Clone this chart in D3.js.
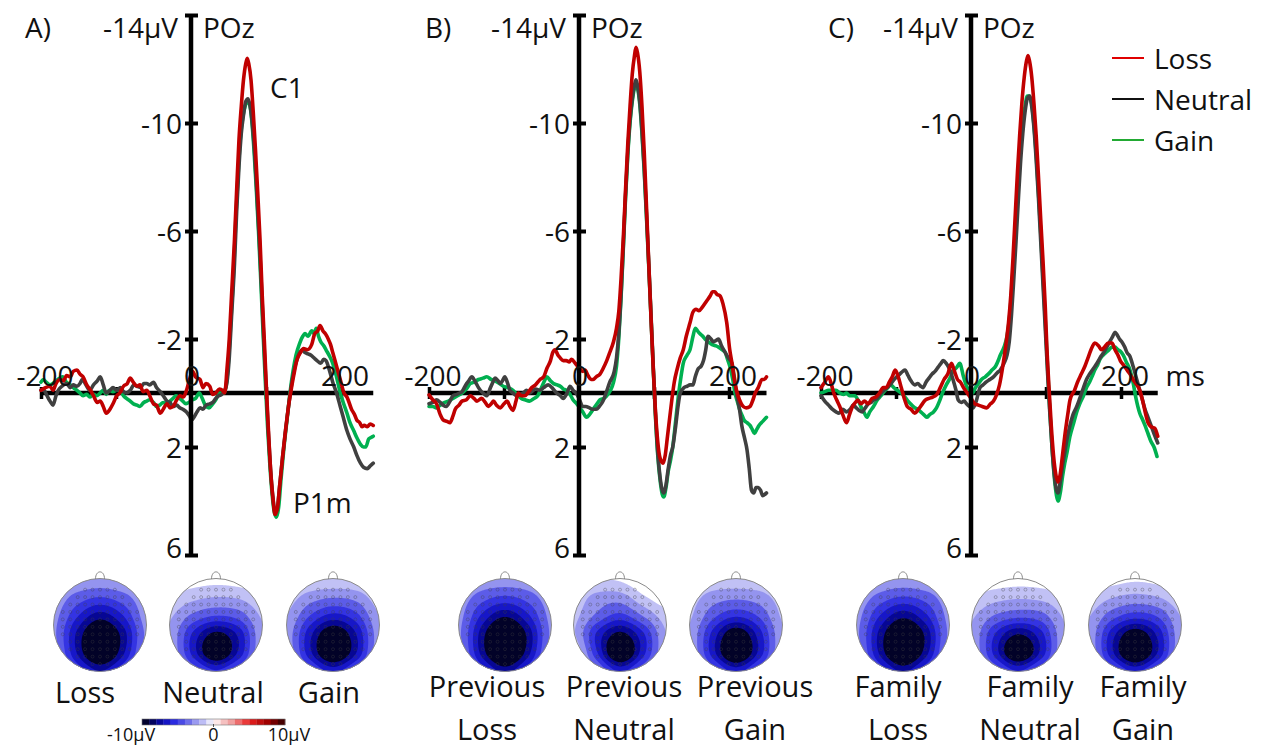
<!DOCTYPE html>
<html><head><meta charset="utf-8">
<script src="https://cdn.jsdelivr.net/npm/d3@7"></script>
<style>body{margin:0;background:#fff}svg{display:block}</style>
</head><body>
<script>
// ---------------- DATA ----------------
const panelLetters = ["A)", "B)", "C)"];
const seriesNames = ["Loss", "Neutral", "Gain"];
const yTicks = [-14, -10, -6, -2, 2, 6];
const yTickLabels = ["-14µV", "-10", "-6", "-2", "2", "6"];
const xTicks = [-200, -100, 100, 200];
const xTickLabels = [-200, 0, 200];
const electrodeLabel = "POz";
const headLabels = [
  [["Loss"], ["Neutral"], ["Gain"]],
  [["Previous", "Loss"], ["Previous", "Neutral"], ["Previous", "Gain"]],
  [["Family", "Loss"], ["Family", "Neutral"], ["Family", "Gain"]]
];
const colorbarTicks = [-10, 0, 10];
const colorbarLabels = ["-10µV", "0", "10µV"];

// ERP waveforms: [time ms, amplitude µV]
const A_loss = [[-200,-0.1],[-194,-0.2],[-188,-0.25],[-184,-0.1],[-180,-0.35],[-175,-0.5],[-170,-0.45],[-166,-0.65],[-161,-0.6],[-157,-0.8],[-152,-0.85],[-148,-0.7],[-144,-0.6],[-139,-0.3],[-134,-0.1],[-130,0.1],[-125,0.35],[-121,0.3],[-117,0.5],[-113,0.75],[-108,0.6],[-104,0.4],[-99,0.1],[-95,0.0],[-90,-0.25],[-85,-0.35],[-81,-0.55],[-77,-0.4],[-72,-0.25],[-68,-0.3],[-64,-0.05],[-59,-0.1],[-55,0.1],[-50,0.4],[-46,0.45],[-41,0.75],[-37,0.6],[-32,0.4],[-28,0.55],[-24,0.5],[-19,0.25],[-15,0.1],[-10,0.15],[-6,-0.1],[-2,-0.5],[2,-0.8],[6,-0.6],[12,-0.5],[16,-0.2],[20,-0.35],[25,-0.25],[29,0.05],[33,0],[38,-0.15],[42,-0.1],[45,0],[48,-0.9],[51,-2],[54,-3.6],[58,-5.7],[61,-7.6],[64,-9.4],[67,-10.6],[70,-11.6],[73,-12.2],[75,-12.4],[77,-12.2],[80,-11.6],[83,-10.4],[86,-9.0],[89,-7.4],[92,-5.7],[95,-3.6],[98,-1.8],[101,0.1],[104,1.8],[107,3.2],[110,4.1],[112,4.5],[115,4.3],[118,3.5],[122,2.4],[126,1.4],[130,0.5],[134,-0.2],[138,-0.8],[141,-1.2],[146,-1.5],[150,-1.65],[155,-1.6],[161,-1.8],[165,-2.2],[169,-2.3],[172,-2.5],[176,-2.3],[179,-2.2],[183,-2.0],[186,-1.8],[189,-1.5],[192,-1.2],[196,-0.8],[199,-0.5],[204,0.0],[208,0.15],[214,0.6],[218,0.8],[221,1.0],[225,1.1],[228,1.25],[231,1.2],[235,1.25],[239,1.15],[243,1.2]];
const A_neutral = [[-200,-0.1],[-196,-0.1],[-192,0.1],[-188,0.3],[-184,0.45],[-180,0.1],[-177,-0.1],[-172,-0.25],[-166,-0.35],[-161,-0.2],[-157,-0.3],[-152,-0.25],[-148,-0.35],[-145,-0.5],[-140,-0.3],[-135,-0.1],[-130,-0.3],[-125,-0.45],[-121,-0.6],[-117,-0.3],[-113,0.0],[-108,-0.1],[-104,-0.2],[-99,-0.1],[-94,-0.2],[-90,-0.05],[-86,0.0],[-81,-0.1],[-76,-0.3],[-72,-0.25],[-67,-0.2],[-63,-0.35],[-59,-0.35],[-55,-0.3],[-50,-0.4],[-46,-0.2],[-41,-0.05],[-37,0.1],[-32,0.3],[-28,0.35],[-24,0.5],[-19,0.45],[-15,0.55],[-11,0.6],[-6,0.7],[-2,0.85],[1,1.0],[4,0.9],[8,0.7],[12,0.55],[16,0.6],[20,0.45],[25,0.4],[29,0.35],[33,0.2],[37,0.1],[41,0.05],[45,-0.1],[48,-0.4],[51,-1.3],[54,-2.8],[58,-4.8],[61,-6.8],[64,-8.4],[67,-9.6],[70,-10.3],[73,-10.8],[76,-10.9],[79,-10.6],[82,-9.9],[85,-8.8],[88,-7.3],[91,-5.7],[94,-3.9],[97,-2.0],[100,-0.3],[103,1.4],[106,2.8],[109,3.8],[112,4.4],[115,4.3],[118,3.5],[122,2.4],[126,1.4],[130,0.5],[134,-0.3],[138,-0.9],[142,-1.3],[145,-1.5],[148,-1.6],[152,-1.5],[156,-1.45],[160,-1.4],[164,-1.3],[168,-1.2],[173,-1.1],[177,-1.25],[180,-1.2],[185,-0.8],[189,-0.4],[194,0.0],[199,0.5],[203,0.9],[208,1.4],[212,1.7],[217,2.0],[221,2.3],[226,2.6],[230,2.75],[235,2.8],[239,2.7],[243,2.6]];
const A_gain = [[-200,-0.4],[-197,-0.5],[-193,-0.4],[-188,-0.3],[-184,-0.35],[-180,-0.45],[-175,-0.55],[-171,-0.6],[-166,-0.4],[-161,-0.3],[-157,-0.2],[-152,-0.1],[-148,0.0],[-144,0.1],[-139,0.05],[-135,0.15],[-130,0.05],[-126,0.1],[-121,0.0],[-117,-0.1],[-113,0.05],[-109,-0.1],[-104,-0.05],[-99,-0.1],[-95,-0.1],[-90,0.1],[-86,0.2],[-81,0.3],[-77,0.4],[-72,0.45],[-68,0.5],[-63,0.35],[-59,0.3],[-55,0.25],[-50,0.35],[-46,0.5],[-42,0.45],[-37,0.35],[-33,0.4],[-28,0.3],[-24,0.2],[-20,0.1],[-15,0.2],[-11,0.3],[-7,0.4],[-3,0.35],[2,0.25],[6,0.2],[11,0.0],[15,0.2],[20,0.5],[24,0.55],[29,0.4],[33,0.25],[38,0.0],[44,0.0],[47,-0.3],[50,-1.2],[53,-2.6],[57,-4.6],[60,-6.6],[63,-8.2],[66,-9.5],[69,-10.2],[72,-10.6],[75,-10.8],[78,-10.7],[81,-10.1],[84,-9.0],[87,-7.6],[90,-6.0],[93,-4.2],[96,-2.3],[99,-0.5],[102,1.2],[105,2.6],[108,3.7],[111,4.4],[114,4.6],[117,4.2],[120,3.2],[124,2.0],[128,1.0],[132,0.0],[136,-0.8],[140,-1.4],[145,-1.85],[149,-2.1],[152,-2.2],[156,-2.1],[161,-2.3],[164,-2.2],[167,-2.4],[170,-2.1],[173,-1.9],[177,-1.75],[180,-1.6],[185,-1.35],[189,-1.1],[194,-0.6],[199,0.0],[203,0.35],[208,0.75],[212,1.1],[217,1.4],[221,1.65],[226,1.9],[230,2.0],[233,2.0],[237,1.7],[240,1.65],[243,1.6]];

const B_loss = [[-200,0.07],[-195,0.25],[-190,0.4],[-185,0.8],[-181,1.0],[-176,1.05],[-172,1.1],[-168,0.85],[-165,0.6],[-160,0.45],[-156,0.3],[-150,0.25],[-145,0.1],[-140,0.2],[-136,0.3],[-130,0.2],[-125,0.35],[-121,0.5],[-117,0.4],[-114,0.3],[-110,0.45],[-105,0.55],[-100,0.4],[-96,0.3],[-92,0.5],[-88,0.65],[-84,0.3],[-81,0.0],[-77,0.1],[-72,0.1],[-67,-0.05],[-63,-0.2],[-58,-0.3],[-52,-0.5],[-47,-0.6],[-43,-0.9],[-38,-1.2],[-35,-1.5],[-32,-1.6],[-28,-1.4],[-25,-1.3],[-21,-1.2],[-17,-1.2],[-13,-1.15],[-10,-1.25],[-5,-1.1],[1,-0.9],[5,-0.8],[8,-0.85],[12,-0.65],[16,-0.5],[19,-0.5],[23,-0.6],[28,-0.7],[32,-0.9],[37,-1.2],[41,-1.5],[46,-1.9],[50,-2.4],[53,-3.0],[56,-4.2],[59,-5.7],[62,-7.5],[65,-9.2],[68,-10.6],[71,-11.8],[74,-12.5],[76,-12.8],[78,-12.6],[81,-11.9],[84,-10.6],[87,-8.9],[90,-6.9],[93,-4.8],[96,-2.8],[99,-0.9],[102,0.7],[105,1.8],[108,2.4],[112,2.6],[115,2.3],[118,1.6],[121,0.9],[124,0.2],[127,-0.4],[131,-0.9],[135,-1.3],[139,-1.6],[143,-2.1],[148,-2.6],[152,-3.0],[156,-3.1],[160,-3.05],[165,-3.2],[170,-3.4],[175,-3.6],[178,-3.75],[181,-3.75],[184,-3.65],[188,-3.6],[192,-3.3],[197,-2.6],[201,-1.6],[204,-1.1],[207,-0.5],[210,-0.1],[214,0.25],[219,0.5],[223,0.55],[228,0.5],[232,0.25],[235,0.0],[239,-0.2],[244,-0.5],[247,-0.5],[250,-0.6]];
const B_neutral = [[-200,0.4],[-195,0.35],[-190,0.25],[-185,0.35],[-181,0.45],[-177,0.5],[-172,0.3],[-168,0.1],[-163,0.05],[-159,0.0],[-156,-0.05],[-151,-0.3],[-147,-0.45],[-143,-0.6],[-138,-0.4],[-134,-0.2],[-130,-0.05],[-126,0.05],[-123,0.1],[-118,-0.2],[-114,-0.45],[-112,-0.55],[-108,-0.45],[-105,-0.35],[-102,-0.45],[-99,-0.6],[-95,-0.35],[-92,-0.1],[-88,0.0],[-83,0.1],[-79,0.05],[-74,0.0],[-70,-0.1],[-66,0.0],[-63,-0.05],[-58,-0.15],[-52,-0.1],[-47,-0.2],[-41,-0.3],[-36,-0.2],[-30,0.0],[-25,0.1],[-21,0.2],[-16,0.0],[-12,-0.25],[-8,-0.1],[-4,0.0],[0,0.2],[5,0.5],[9,0.5],[14,0.55],[18,0.6],[23,0.6],[27,0.5],[32,0.3],[36,0.0],[41,-0.4],[47,-0.8],[50,-1.3],[53,-2.2],[56,-3.6],[59,-5.4],[62,-7.3],[65,-8.9],[68,-10.1],[71,-10.9],[74,-11.4],[76,-11.6],[78,-11.4],[81,-10.8],[84,-9.7],[87,-8.3],[90,-6.6],[93,-4.8],[96,-2.9],[99,-1.0],[102,0.8],[105,2.2],[108,3.1],[111,3.6],[113,3.7],[116,3.4],[119,2.8],[122,2.3],[125,2.0],[129,1.2],[132,0.5],[135,0.0],[140,-0.2],[144,-0.25],[148,-0.3],[152,-0.3],[155,-0.6],[159,-0.9],[163,-1.0],[166,-1.2],[169,-1.6],[172,-2.1],[176,-2.0],[179,-1.9],[183,-1.95],[186,-2.0],[190,-1.75],[195,-1.5],[199,-1.3],[204,-1.1],[207,-0.6],[210,0.0],[214,0.6],[217,1.2],[221,1.7],[224,2.1],[227,2.8],[230,3.6],[233,3.7],[236,3.5],[239,3.5],[242,3.6],[245,3.8],[248,3.75],[250,3.7]];
const B_gain = [[-200,0.5],[-195,0.5],[-190,0.55],[-185,0.45],[-179,0.35],[-174,0.3],[-168,0.2],[-162,0.1],[-156,0.0],[-150,-0.15],[-145,-0.35],[-140,-0.4],[-134,-0.5],[-128,-0.55],[-123,-0.6],[-117,-0.5],[-112,-0.45],[-106,-0.35],[-101,-0.25],[-95,-0.2],[-88,-0.1],[-83,0.05],[-77,0.2],[-72,0.25],[-66,0.3],[-60,0.2],[-55,0.1],[-50,-0.2],[-46,-0.45],[-43,-0.6],[-38,-0.45],[-34,-0.35],[-29,-0.3],[-25,-0.25],[-21,-0.15],[-17,-0.1],[-12,0.05],[-8,0.25],[-3,0.4],[1,0.55],[5,0.7],[10,0.9],[14,0.8],[19,0.6],[24,0.4],[28,0.25],[33,0.2],[37,0.1],[42,-0.1],[46,-0.4],[50,-1.0],[53,-2.0],[56,-3.5],[59,-5.3],[62,-7.2],[65,-8.8],[68,-10.0],[71,-10.8],[74,-11.3],[76,-11.4],[78,-11.3],[81,-10.7],[84,-9.6],[87,-8.2],[90,-6.5],[93,-4.7],[96,-2.8],[99,-0.9],[102,0.9],[105,2.3],[108,3.2],[111,3.75],[113,3.85],[116,3.5],[119,2.9],[122,2.5],[125,2.0],[129,1.0],[133,0.0],[136,-0.6],[139,-1.1],[144,-1.4],[148,-1.6],[152,-2.1],[155,-2.4],[158,-2.3],[161,-2.2],[165,-2.1],[168,-2.0],[172,-1.9],[177,-1.8],[182,-1.75],[186,-1.7],[191,-1.6],[195,-1.5],[198,-1.25],[201,-1.0],[205,-0.5],[208,0.0],[211,0.3],[214,0.6],[217,0.8],[220,1.0],[224,1.1],[228,1.2],[231,1.35],[234,1.5],[237,1.35],[240,1.2],[245,1.05],[250,0.9]];

const C_loss = [[-200,-0.2],[-195,-0.4],[-190,-0.6],[-186,-0.3],[-183,0.0],[-179,0.26],[-175,0.5],[-171,0.8],[-166,1.1],[-162,0.8],[-158,0.5],[-154,0.35],[-151,0.26],[-147,0.4],[-142,0.3],[-137,0.4],[-132,0.2],[-127,0.15],[-122,0.0],[-117,-0.2],[-113,-0.2],[-109,-0.4],[-105,-0.6],[-101,-0.85],[-97,-0.6],[-93,-0.2],[-89,0.2],[-85,0.5],[-80,0.6],[-75,0.75],[-70,0.6],[-66,0.45],[-61,0.26],[-56,0.2],[-51,0.15],[-46,0.07],[-41,-0.2],[-36,-0.5],[-31,-0.7],[-26,-1.1],[-22,-0.8],[-18,-0.5],[-14,-0.4],[-10,-0.2],[-5,0.0],[0,0.2],[5,0.4],[10,0.45],[15,0.5],[21,0.55],[26,0.4],[30,0.3],[34,0.07],[38,-0.3],[43,-1.1],[47,-1.9],[50,-2.6],[53,-3.6],[56,-5.0],[59,-6.6],[62,-8.2],[65,-9.6],[68,-10.8],[71,-11.7],[74,-12.3],[76,-12.5],[78,-12.3],[81,-11.7],[84,-10.7],[87,-9.5],[90,-8.0],[93,-6.4],[96,-4.9],[99,-3.2],[101,-1.8],[104,-0.2],[107,1.2],[110,2.3],[113,3.0],[116,3.3],[119,3.0],[122,2.3],[125,1.6],[129,0.8],[132,0.26],[138,-0.1],[142,-0.4],[147,-0.7],[152,-1.0],[156,-1.3],[160,-1.6],[165,-1.85],[170,-1.75],[174,-1.6],[178,-1.7],[183,-1.85],[188,-1.85],[192,-1.6],[196,-1.4],[199,-1.2],[203,-1.05],[208,-0.85],[212,-0.7],[216,-0.5],[221,-0.3],[225,-0.1],[229,0.3],[233,0.8],[236,1.1],[240,1.25],[245,1.3],[249,1.6]];
const C_neutral = [[-200,0.1],[-195,0.3],[-190,0.45],[-185,0.6],[-180,0.7],[-176,0.75],[-171,0.6],[-166,0.7],[-161,0.6],[-157,0.45],[-153,0.55],[-149,0.65],[-145,0.7],[-141,0.55],[-137,0.4],[-133,0.35],[-130,0.26],[-125,0.2],[-121,0.05],[-116,-0.1],[-112,-0.2],[-108,-0.3],[-104,-0.45],[-99,-0.6],[-95,-0.7],[-91,-0.8],[-88,-0.85],[-84,-0.65],[-80,-0.45],[-75,-0.3],[-71,-0.35],[-67,-0.25],[-64,-0.2],[-60,-0.4],[-56,-0.55],[-52,-0.7],[-48,-0.8],[-44,-0.95],[-40,-1.1],[-37,-1.2],[-33,-1.1],[-28,-0.85],[-24,-0.5],[-20,-0.1],[-17,0.26],[-13,0.35],[-9,0.3],[-6,0.4],[-2,0.5],[3,0.55],[7,0.3],[12,-0.2],[16,-0.3],[20,-0.4],[25,-0.5],[30,-0.6],[35,-0.75],[39,-0.85],[44,-1.1],[48,-1.4],[51,-1.9],[54,-2.9],[57,-4.2],[60,-5.6],[63,-7.1],[66,-8.5],[69,-9.6],[72,-10.4],[75,-10.9],[78,-11.0],[81,-10.6],[84,-9.8],[87,-8.6],[90,-7.2],[93,-5.6],[96,-4.0],[99,-2.4],[102,-0.8],[105,0.7],[108,2.0],[111,3.0],[114,3.6],[116,3.7],[119,3.3],[122,2.7],[125,2.2],[128,1.7],[132,1.2],[136,0.8],[141,0.5],[145,0.2],[150,-0.2],[154,-0.5],[158,-0.7],[163,-0.9],[168,-1.1],[172,-1.3],[177,-1.5],[181,-1.7],[185,-1.9],[189,-2.1],[192,-2.25],[195,-2.15],[198,-2.0],[201,-1.9],[205,-1.7],[208,-1.5],[212,-1.35],[216,-1.0],[221,-0.5],[225,-0.1],[229,0.3],[232,0.6],[236,0.9],[240,1.2],[244,1.5],[249,1.85]];
const C_gain = [[-200,0.0],[-195,-0.05],[-190,-0.1],[-185,-0.1],[-180,-0.1],[-175,0.0],[-170,0.05],[-166,0.0],[-162,0.1],[-158,0.1],[-155,0.1],[-150,0.3],[-146,0.55],[-142,0.75],[-139,0.9],[-135,0.7],[-130,0.5],[-125,0.26],[-120,0.1],[-116,-0.05],[-111,-0.2],[-107,-0.3],[-103,-0.2],[-98,-0.1],[-93,0.0],[-88,0.15],[-84,0.3],[-79,0.45],[-75,0.55],[-71,0.6],[-67,0.7],[-63,0.8],[-59,0.9],[-55,0.8],[-50,0.7],[-46,0.55],[-42,0.3],[-38,0.0],[-33,-0.3],[-28,-0.55],[-24,-0.8],[-19,-0.95],[-15,-1.1],[-10,-0.6],[-5,-0.2],[-1,-0.1],[2,0.0],[6,-0.2],[10,-0.35],[14,-0.5],[19,-0.6],[23,-0.7],[28,-0.85],[33,-1.0],[37,-1.25],[39,-1.4],[44,-1.7],[48,-2.1],[51,-2.7],[54,-3.7],[57,-5.0],[60,-6.5],[63,-7.9],[66,-9.1],[69,-10.0],[72,-10.6],[75,-11.0],[78,-11.0],[81,-10.7],[84,-9.9],[87,-8.8],[90,-7.4],[93,-5.9],[96,-4.3],[99,-2.7],[102,-1.0],[105,0.6],[108,2.0],[111,3.1],[114,3.8],[116,4.0],[119,3.7],[122,3.1],[125,2.6],[128,2.2],[132,1.6],[137,1.1],[141,0.7],[145,0.4],[150,0.1],[154,-0.2],[158,-0.4],[162,-0.65],[165,-0.85],[169,-1.05],[172,-1.25],[176,-1.4],[180,-1.5],[184,-1.6],[188,-1.7],[192,-1.7],[196,-1.6],[199,-1.55],[203,-1.4],[207,-1.15],[212,-0.85],[216,-0.4],[220,0.2],[225,0.75],[229,1.0],[232,1.2],[236,1.5],[240,1.8],[244,2.0],[248,2.35]];

// Scalp maps: amplitude grid (µV), rows front->back, cols left->right
const topo_A_loss = [[-1.6,-2.0,-2.3,-2.0,-1.6],[-2.3,-3.8,-4.6,-3.8,-2.3],[-2.8,-5.6,-7.6,-5.8,-2.6],[-3.0,-7.2,-10.2,-7.6,-3.0],[-2.6,-7.0,-10.5,-7.2,-2.6],[-2.0,-4.8,-7.0,-4.8,-2.0]];
const topo_A_neutral = [[0.2,-0.2,-0.4,-0.2,0.2],[-0.9,-1.6,-2.0,-1.8,-0.9],[-1.8,-3.6,-4.6,-4.0,-1.8],[-2.2,-6.0,-8.6,-6.6,-2.2],[-2.0,-6.2,-9.8,-6.6,-2.0],[-1.5,-3.6,-5.6,-3.6,-1.5]];
const topo_A_gain = [[-0.4,-0.8,-0.9,-0.8,-0.2],[-1.3,-2.6,-3.2,-2.8,-1.2],[-2.0,-4.6,-6.2,-5.0,-2.0],[-2.5,-6.6,-9.6,-7.0,-2.5],[-2.2,-6.6,-10.2,-7.0,-2.2],[-1.5,-4.0,-6.2,-4.0,-1.5]];
const topo_B_loss = [[-1.6,-2.2,-2.4,-2.2,-1.6],[-2.4,-4.0,-4.8,-4.0,-2.4],[-2.8,-6.0,-8.0,-6.0,-2.8],[-3.0,-7.6,-10.8,-7.8,-3.0],[-2.6,-7.4,-11,-7.4,-2.6],[-2.0,-5.0,-7.4,-5.0,-2.0]];
const topo_B_neutral = [[-0.6,-0.8,-0.6,0.2,0.4],[-1.2,-2.4,-2.6,-1.0,0.0],[-1.6,-3.6,-5.0,-3.2,-1.3],[-1.8,-6.0,-8.6,-6.0,-2.0],[-0.6,-5.6,-10.2,-6.2,-2.0],[-0.2,-3.0,-6.0,-3.6,-1.5]];
const topo_B_gain = [[-0.6,-1.0,-1.1,-1.0,-0.6],[-1.4,-2.6,-3.0,-2.6,-1.4],[-1.8,-4.2,-5.6,-4.4,-1.8],[-2.2,-6.2,-9.4,-6.4,-2.2],[-2.0,-6.4,-10.4,-6.6,-2.0],[-1.5,-3.8,-6.2,-3.8,-1.5]];
const topo_C_loss = [[-1.5,-2.0,-2.3,-2.0,-1.6],[-2.3,-3.8,-4.7,-4.0,-2.4],[-2.8,-5.8,-7.8,-6.0,-2.8],[-3.0,-7.4,-10.4,-7.8,-3.0],[-2.6,-7.2,-10.8,-7.4,-2.6],[-2.0,-4.8,-7.2,-4.8,-2.0]];
const topo_C_neutral = [[0.2,-0.1,-0.3,-0.2,0.2],[-0.9,-1.5,-1.8,-1.6,-1.0],[-1.8,-3.4,-4.2,-3.8,-1.8],[-2.2,-5.8,-8.2,-6.2,-2.2],[-2.0,-6.2,-10,-6.6,-2.0],[-1.5,-3.6,-5.8,-3.6,-1.5]];
const topo_C_gain = [[0.1,-0.3,-0.6,-0.4,0.1],[-1.0,-1.9,-2.4,-2.0,-1.0],[-1.9,-4.0,-5.2,-4.4,-1.9],[-2.3,-6.4,-9.2,-6.6,-2.3],[-2.1,-6.6,-10.4,-6.8,-2.1],[-1.5,-3.8,-6.0,-3.8,-1.5]];
const topoLevels = [0.8, 2, 3.3, 4.6, 5.8, 7.0, 8.2];

// ---------------- LAYOUT / STYLE ----------------
const W = 1267, H = 748;
const FONT = "'Open Sans','Noto Sans',sans-serif";
const lineColors = {Loss: "#c00000", Neutral: "#404040", Gain: "#00b050"};
const legendColors = {Loss: "#e00000", Neutral: "#111111", Gain: "#22aa33"};
const panels = [
  {axisX: 191, letterX: 25, series: {Gain: A_gain, Neutral: A_neutral, Loss: A_loss}, heads: [100, 216, 333], labelX: [85, 213, 329], topo: [topo_A_loss, topo_A_neutral, topo_A_gain]},
  {axisX: 579, letterX: 425, series: {Gain: B_gain, Neutral: B_neutral, Loss: B_loss}, heads: [505, 620, 736], labelX: [487, 624, 755], topo: [topo_B_loss, topo_B_neutral, topo_B_gain]},
  {axisX: 971, letterX: 828, series: {Gain: C_gain, Neutral: C_neutral, Loss: C_loss}, heads: [903, 1018, 1135], labelX: [898, 1030, 1143], topo: [topo_C_loss, topo_C_neutral, topo_C_gain]}
];

const svg = d3.select("body").append("svg").attr("width", W).attr("height", H)
  .style("font-family", FONT);

const y = d3.scaleLinear().domain([-14, 6]).range([15, 555]);
const color = d3.scaleLinear()
  .domain([-10, -8.5, -7, -5.5, -4, -2.5, -1, 0, 1, 2.5, 5, 7.5, 10])
  .range(["#020214", "#03035e", "#0a0ab8", "#2a2ae0", "#5a5ae8", "#9a9af0", "#cfcff7", "#ffffff", "#f8d0d0", "#f0a0a0", "#e82020", "#a00000", "#300000"]);

panels.forEach((p, pi) => {
  const g = svg.append("g");
  const ax = p.axisX;
  const allT = Object.values(p.series).flat().map(d => d[0]);
  const tEnd = d3.max(allT);
  const x = d3.scaleLinear().domain([-200, 250]).range([ax - 150, ax + 187.5]);

  // x axis
  const xa = g.append("g").attr("transform", `translate(0,${y(0)})`)
    .call(d3.axisBottom(x).tickValues(xTicks).tickSizeOuter(0).tickFormat(""));
  xa.select(".domain").attr("d", `M${x(-200)},0H${x(tEnd)}`).attr("stroke", "#000").attr("stroke-width", 4.5);
  xa.selectAll(".tick line").attr("y1", -6).attr("y2", 6).attr("stroke", "#000").attr("stroke-width", 3.5);

  // waveforms
  const line = d3.line().x(d => x(d[0])).y(d => y(d[1])).curve(d3.curveMonotoneX);
  ["Gain", "Neutral", "Loss"].forEach(k => {
    g.append("path").datum(p.series[k]).attr("d", line)
      .attr("fill", "none").attr("stroke", lineColors[k]).attr("stroke-width", 3.6)
      .attr("stroke-linejoin", "round").attr("stroke-linecap", "round");
  });

  // y axis
  const ya = g.append("g").attr("transform", `translate(${ax},0)`)
    .call(d3.axisLeft(y).tickValues(yTicks).tickSizeOuter(0).tickFormat(""));
  ya.select(".domain").attr("d", `M0,${y(-14)}V${y(6)}`).attr("stroke", "#000").attr("stroke-width", 4.5);
  ya.selectAll(".tick line").attr("x1", -6).attr("x2", 7).attr("stroke", "#000").attr("stroke-width", 4);

  // y tick labels
  yTicks.forEach((v, i) => {
    const top = i === 0, bottom = i === yTicks.length - 1;
    const by = top ? 38 : bottom ? 558 : y(v) + 10.5;
    g.append("text").attr("x", top ? ax - 13 : ax - 9).attr("y", by)
      .attr("text-anchor", "end").attr("font-size", 28).attr("fill", "#111").text(yTickLabels[i]);
  });
  g.append("text").attr("x", ax + 12).attr("y", 38).attr("font-size", 28).attr("fill", "#111").text(electrodeLabel);

  // x tick labels
  xTickLabels.forEach(v => {
    g.append("text").attr("x", x(v) + (v === 0 ? 1 : 4)).attr("y", 386)
      .attr("text-anchor", "middle").attr("font-size", 28).attr("fill", "#111").text(v);
  });
  if (pi === 2) {
    g.append("text").attr("x", x(250) + 7).attr("y", 386).attr("font-size", 28).attr("fill", "#111").text("ms");
  }

  // panel letter
  g.append("text").attr("x", p.letterX).attr("y", 38).attr("font-size", 28).attr("fill", "#111").text(panelLetters[pi]);

  // component labels
  if (pi === 0) {
    g.append("text").attr("x", 270).attr("y", 98).attr("font-size", 28).attr("fill", "#111").text("C1");
    g.append("text").attr("x", 293).attr("y", 513).attr("font-size", 28).attr("fill", "#111").text("P1m");
  }

  // heads
  p.heads.forEach((cx, hi) => {
    drawHead(g, cx, 625, 46.5, p.topo[hi], `clip-${pi}-${hi}`);
    const lab = headLabels[pi][hi];
    lab.forEach((t, li) => {
      g.append("text").attr("x", p.labelX[hi]).attr("y", lab.length === 1 ? 703 : 697 + li * 43)
        .attr("text-anchor", "middle").attr("font-size", 29).attr("fill", "#111").text(t);
    });
  });
});

// legend
const legendY = [58, 99, 140];
seriesNames.forEach((k, i) => {
  svg.append("line").attr("x1", 1112).attr("x2", 1144).attr("y1", legendY[i]).attr("y2", legendY[i])
    .attr("stroke", legendColors[k]).attr("stroke-width", 2);
  svg.append("text").attr("x", 1154).attr("y", legendY[i] + 10.5).attr("font-size", 28).attr("fill", "#111").text(k);
});

// colorbar
const cb = d3.scaleLinear().domain([-10, 10]).range([142, 285]);
const cbSteps = d3.range(-10, 10, 1);
svg.append("g").selectAll("rect").data(cbSteps).join("rect")
  .attr("x", d => cb(d)).attr("width", cb(1) - cb(0) + 0.3)
  .attr("y", 719).attr("height", 6).attr("fill", d => color(d + 0.5));
svg.append("rect").attr("x", 142).attr("y", 719).attr("width", 143).attr("height", 6)
  .attr("fill", "none").attr("stroke", "#777").attr("stroke-width", 0.6);
svg.append("line").attr("x1", cb(0)).attr("x2", cb(0)).attr("y1", 724).attr("y2", 727).attr("stroke", "#555").attr("stroke-width", 1);
colorbarTicks.forEach((v, i) => {
  svg.append("text").attr("x", cb(v) + (i === 0 ? -11 : i === 2 ? 4 : 0)).attr("y", 741)
    .attr("text-anchor", "middle").attr("font-size", 18).attr("fill", "#111").text(colorbarLabels[i]);
});

// ---------------- TOPO ----------------
function cubic(p0, p1, p2, p3, t) {
  return p1 + 0.5 * t * (p2 - p0 + t * (2 * p0 - 5 * p1 + 4 * p2 - p3 + t * (3 * (p1 - p2) + p3 - p0)));
}
function sampleGrid(grid, gx, gy) {
  const rows = grid.length, cols = grid[0].length;
  const at = (r, c) => grid[Math.max(0, Math.min(rows - 1, r))][Math.max(0, Math.min(cols - 1, c))];
  const r0 = Math.floor(gy), c0 = Math.floor(gx);
  const ty = gy - r0, tx = gx - c0;
  const rowVals = [-1, 0, 1, 2].map(dr => cubic(at(r0 + dr, c0 - 1), at(r0 + dr, c0), at(r0 + dr, c0 + 1), at(r0 + dr, c0 + 2), tx));
  return cubic(rowVals[0], rowVals[1], rowVals[2], rowVals[3], ty);
}
function drawHead(g, cx, cy, R, grid, id) {
  const n = 80;
  const rows = grid.length, cols = grid[0].length;
  const vals = new Array(n * n);
  for (let j = 0; j < n; j++) for (let i = 0; i < n; i++) {
    const gx = (i + 0.5) / n * (cols - 1), gy = (j + 0.5) / n * (rows - 1);
    vals[j * n + i] = -sampleGrid(grid, gx, gy);
  }
  const cont = d3.contours().size([n, n]).thresholds(topoLevels)(vals);
  const proj = d3.geoIdentity().scale(2 * R / n).translate([cx - R, cy - R]);
  const path = d3.geoPath(proj);
  g.append("clipPath").attr("id", id).append("circle").attr("cx", cx).attr("cy", cy).attr("r", R);
  const hg = g.append("g").attr("clip-path", `url(#${id})`);
  hg.append("circle").attr("cx", cx).attr("cy", cy).attr("r", R).attr("fill", "#fff");
  const mids = topoLevels.map((t, i) => i < topoLevels.length - 1 ? (t + topoLevels[i + 1]) / 2 : t + 1.4);
  hg.selectAll("path.band").data(cont).join("path").attr("class", "band")
    .attr("d", path).attr("fill", (d, i) => color(-mids[i])).attr("stroke", "none");
  // electrode layout (cap montage)
  const el = hg.append("g").attr("fill", "none").attr("stroke", "#444").attr("stroke-opacity", 0.5).attr("stroke-width", 0.7);
  const step = 0.16;
  for (let ry = -0.76; ry <= 0.9; ry += step) {
    const half = Math.sqrt(Math.max(0, 0.9 * 0.9 - ry * ry)) * 0.95;
    const k = Math.floor(half / step);
    for (let c = -k; c <= k; c++) {
      el.append("circle").attr("cx", cx + c * step * R).attr("cy", cy + ry * R).attr("r", 1.5);
    }
  }
  g.append("circle").attr("cx", cx).attr("cy", cy).attr("r", R).attr("fill", "none").attr("stroke", "#8a8a8a").attr("stroke-width", 1);
  g.append("path").attr("d", `M${cx - 4.5},${cy - R + 0.5} C${cx - 4.5},${cy - R - 9} ${cx + 4.5},${cy - R - 9} ${cx + 4.5},${cy - R + 0.5}`)
    .attr("fill", "none").attr("stroke", "#8a8a8a").attr("stroke-width", 1);
}
</script>
</body></html>
